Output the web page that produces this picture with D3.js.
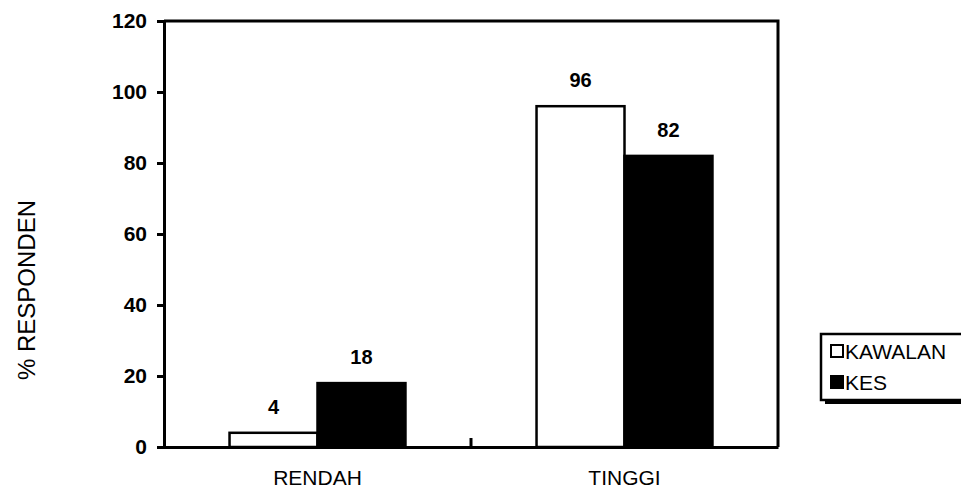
<!DOCTYPE html>
<html>
<head>
<meta charset="utf-8">
<script src="https://cdn.jsdelivr.net/npm/d3@7"></script>
<style>
  body { margin: 0; background: #fff; }
  svg { display: block; font-family: "Liberation Sans", Arial, sans-serif; }
</style>
</head>
<body>
<div id="chart"></div>
<script>
// chart data
const categories = ['RENDAH', 'TINGGI'];
const seriesNames = ['KAWALAN', 'KES'];
const kawalanValues = [4, 96];
const kesValues = [18, 82];
const yTicks = [0, 20, 40, 60, 80, 100, 120];

const width = 961, height = 488;
const plot = { left: 164, right: 778, top: 21, bottom: 447 };
const fills = { KAWALAN: '#fff', KES: '#000' };
const fontFamily = '"Liberation Sans", Arial, sans-serif';

const svg = d3.select('#chart').append('svg')
  .attr('width', width)
  .attr('height', height);

// scales
const x0 = d3.scaleBand()
  .domain(categories)
  .range([plot.left, plot.right])
  .paddingInner(0)
  .paddingOuter(0);
const x1 = d3.scaleBand()
  .domain(seriesNames)
  .range([0, x0.bandwidth()])
  .paddingInner(0)
  .paddingOuter(0.745);
const y = d3.scaleLinear()
  .domain([0, 120])
  .range([plot.bottom, plot.top]);

// build rows from the named arrays
const rows = categories.map((c, i) => ({
  category: c,
  values: [
    { series: 'KAWALAN', value: kawalanValues[i] },
    { series: 'KES', value: kesValues[i] },
  ],
}));

// bars
const groups = svg.selectAll('.group')
  .data(rows)
  .join('g')
    .attr('class', 'group')
    .attr('transform', (d) => `translate(${x0(d.category)},0)`);

groups.selectAll('rect')
  .data((d) => d.values)
  .join('rect')
    .attr('x', (d) => x1(d.series))
    .attr('y', (d) => y(d.value))
    .attr('width', x1.bandwidth())
    .attr('height', (d) => y(0) - y(d.value))
    .attr('fill', (d) => fills[d.series])
    .attr('stroke', '#000')
    .attr('stroke-width', 2.5);

// value labels
groups.selectAll('text')
  .data((d) => d.values)
  .join('text')
    .attr('x', (d) => x1(d.series) + x1.bandwidth() / 2)
    .attr('y', (d) => y(d.value) - 19)
    .attr('text-anchor', 'middle')
    .style('font-size', '20px')
    .style('font-weight', 'bold')
    .text((d) => d.value);

// plot frame (top and right)
svg.append('path')
  .attr('d', `M${plot.left},${plot.top}H${plot.right}V${plot.bottom}`)
  .attr('fill', 'none')
  .attr('stroke', '#000')
  .attr('stroke-width', 3);

// y axis
const yAxis = svg.append('g')
  .attr('transform', `translate(${plot.left},0)`)
  .call(d3.axisLeft(y).tickValues(yTicks).tickSize(7).tickPadding(10));
yAxis.select('.domain').attr('stroke-width', 3);
yAxis.selectAll('.tick line').attr('stroke-width', 3);
yAxis.selectAll('.tick text')
  .style('font-size', '21px')
  .style('font-weight', 'bold')
  .style('font-family', fontFamily)
  .attr('fill', '#000');

// x axis
const xAxis = svg.append('g')
  .attr('transform', `translate(0,${plot.bottom})`)
  .call(d3.axisBottom(x0).tickSize(0).tickPadding(23));
xAxis.select('.domain').attr('stroke-width', 3);
xAxis.selectAll('.tick text')
  .style('font-size', '21px')
  .style('font-family', fontFamily)
  .attr('fill', '#000');

// category divider tick
svg.append('line')
  .attr('x1', x0('TINGGI'))
  .attr('x2', x0('TINGGI'))
  .attr('y1', plot.bottom)
  .attr('y2', plot.bottom - 9)
  .attr('stroke', '#000')
  .attr('stroke-width', 3);

// y axis title
svg.append('text')
  .attr('transform', `translate(35,290) rotate(-90)`)
  .attr('text-anchor', 'middle')
  .style('font-size', '24px')
  .text('% RESPONDEN');

// legend
const legend = svg.append('g').attr('transform', 'translate(821,334)');
legend.append('rect')
  .attr('x', 4).attr('y', 4)
  .attr('width', 142).attr('height', 66)
  .attr('fill', '#000');
legend.append('rect')
  .attr('width', 142).attr('height', 66)
  .attr('fill', '#fff')
  .attr('stroke', '#000')
  .attr('stroke-width', 2.5);
seriesNames.forEach((s, i) => {
  const row = legend.append('g').attr('transform', `translate(9,${17 + i * 31})`);
  row.append('rect')
    .attr('x', 1).attr('y', -6)
    .attr('width', 12).attr('height', 12)
    .attr('fill', fills[s])
    .attr('stroke', '#000')
    .attr('stroke-width', 2);
  row.append('text')
    .attr('x', 15).attr('y', 7.5)
    .style('font-size', '21px')
    .text(s);
});
</script>
</body>
</html>
